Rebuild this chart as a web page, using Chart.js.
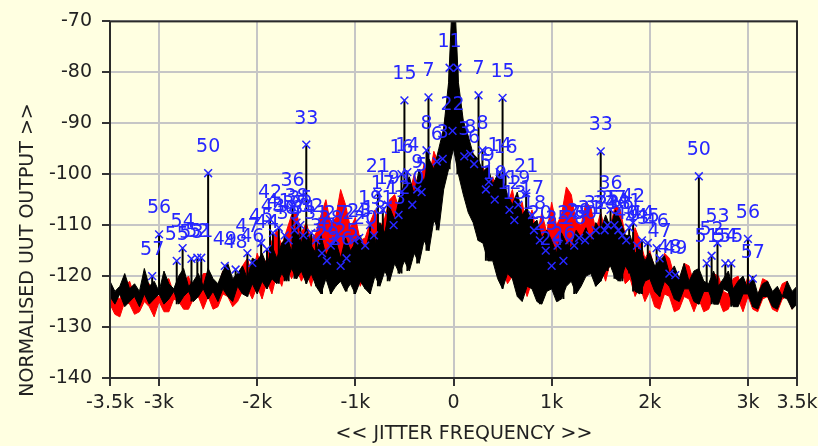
<!DOCTYPE html>
<html>
<head>
<meta charset="utf-8">
<script src="https://cdn.jsdelivr.net/npm/chart.js@4.4.1/dist/chart.umd.min.js"></script>
<style>
html, body { margin: 0; padding: 0; background: #ffffe1; }
canvas { display: block; }
</style>
</head>
<body>
<canvas id="jitterChart" width="818" height="446"></canvas>
<script>
// frequency grid of the noise traces (Hz): -3500 .. 3500 in 50 Hz bins
const freqStart = -3500;
const freqStep = 50;

// black trace, top and bottom of the noise band per bin (dB)
const blackHi = [
  -121, -123, -122, -119.5, -122.5, -121.5, -123, -118.5, -122, -121,
  -123, -119, -121.5, -122.5, -120, -118.5, -122, -121, -119.5, -122,
  -118.5, -120.5, -121.5, -119, -117.5, -120.5, -119.5, -118, -120.5, -116.5,
  -117, -115.5, -118, -114, -116.5, -113.5, -112.5, -115, -111, -113.5,
  -110.5, -114, -115.5, -112, -116, -114, -113, -116.5, -112.5, -115,
  -113.5, -112, -115.5, -111, -113.5, -109.5, -111.5, -106.5, -109, -104.5,
  -102, -100.5, -104, -99, -101.5, -97, -99, -95, -91, -82,
  -60, -82, -89.5, -92.5, -96, -97, -99.5, -98.5, -102, -100,
  -101, -104, -106, -103.5, -108, -106.5, -110, -109, -112.5, -111,
  -113, -115.5, -111.5, -113.5, -114.5, -111, -112.5, -110.5, -113.5, -109.5,
  -111, -108, -110.5, -107, -109, -112, -112, -115.5, -114.5, -117,
  -115.5, -118, -117, -116, -119.5, -118, -120.5, -117.5, -121, -119,
  -118.5, -121, -121.5, -119, -122, -120.5, -119, -122.5, -121, -120,
  -122.5, -120, -123.5, -121.5, -121, -123, -122, -124, -121, -123,
  -122
];
const blackLo = [
  -124, -125.5, -123.5, -126, -125, -124, -126, -123.5, -125.5, -124.5,
  -123.5, -125.5, -124.5, -123, -125.5, -124, -123, -125, -124, -122.5,
  -124.5, -123, -125, -122.5, -124, -125, -122, -123.5, -124, -121.5,
  -123.5, -121, -122.5, -120.5, -121.5, -119.5, -121, -118.5, -120.5, -119,
  -121.5, -119.5, -122, -123.5, -120.5, -123.5, -122, -121, -123, -121.5,
  -123.5, -121, -122.5, -123.5, -120, -122, -119, -121, -117.5, -119.5,
  -117, -119, -115.5, -117.5, -113, -115, -109, -111, -103, -99,
  -95, -100, -104, -107.5, -109.5, -113, -113.5, -117, -117, -120.5,
  -122.5, -119.5, -120.5, -124, -125, -122, -122.5, -125, -125.5, -123,
  -122.5, -125, -124.5, -122, -121, -123.5, -122, -120, -119.5, -122,
  -121, -119, -118, -120.5, -121, -118, -119.5, -123, -123.5, -121,
  -120.5, -123, -124, -121, -122, -124.5, -125, -122.5, -122.5, -125,
  -125.5, -123, -123, -125.5, -125.5, -122.5, -123, -126, -126, -123.5,
  -123.5, -126, -126.5, -124, -124, -126, -126.5, -124, -124.5, -126.5,
  -125.5
];

// red trace, top and bottom of the noise band per bin (dB)
const redHi = [
  -121.5, -124, -124.5, -122, -121, -124, -125, -122.5, -121.5, -124,
  -124, -121, -120.5, -123.5, -123, -121, -120, -123, -122.5, -119.5,
  -119.5, -122.5, -122, -119, -119.5, -121.5, -121, -118, -116.5, -120,
  -115.5, -118.5, -116.5, -113, -111, -114, -111, -108, -107.5, -111.5,
  -109.5, -113, -111.5, -108, -105, -110, -108.5, -103, -106, -110.5,
  -108.5, -113, -112.5, -109.5, -107, -110.5, -108.5, -105, -104, -107,
  -101.5, -104, -100, -103, -98, -101, -95.5, -98, -91, -85,
  -70, -84, -90, -94.5, -96, -99, -98.5, -101.5, -100.5, -104,
  -102, -106, -103, -108, -105.5, -110.5, -107, -112, -107.5, -111.5,
  -105.5, -110, -108, -102.5, -104, -109.5, -110, -105.5, -106.5, -111,
  -107.5, -111.5, -110, -106, -107, -112, -115, -110.5, -113, -116.5,
  -115, -118.5, -119.5, -115.5, -116.5, -120, -121, -117.5, -118, -121.5,
  -119, -122.5, -123, -119.5, -120, -123, -123.5, -120.5, -120, -123.5,
  -120, -123.5, -124, -120.5, -121, -123.5, -124, -121.5, -121, -124.5,
  -123
];
const redLo = [
  -125.5, -127.5, -128, -125, -125.5, -127.5, -127, -125, -126, -128,
  -125, -127, -127, -124.5, -125, -126.5, -126.5, -124.5, -124, -126.5,
  -124, -126.5, -126, -123.5, -124, -126, -125, -123, -122.5, -124.5,
  -122, -124.5, -121, -123.5, -119.5, -122, -118, -120.5, -118.5, -121,
  -119, -122, -118, -121, -116.5, -119.5, -116, -119, -117, -120.5,
  -118.5, -122, -119.5, -122.5, -119, -121.5, -117.5, -120, -116.5, -118.5,
  -115.5, -117.5, -113.5, -115.5, -111, -113.5, -107, -109, -101, -97,
  -93, -98, -102, -106, -108, -112, -112.5, -116, -116, -119.5,
  -118.5, -121.5, -120, -123, -121, -124, -121, -123.5, -120, -122.5,
  -117.5, -120, -116, -119, -115.5, -118.5, -116.5, -119.5, -117, -120,
  -118, -121, -117, -120, -118, -121.5, -120.5, -124, -122, -125,
  -123, -126, -126.5, -123.5, -124, -127, -126.5, -124, -124.5, -127,
  -124.5, -127, -126.5, -124, -124.5, -127, -126.5, -124, -124.5, -127,
  -124, -126.5, -127, -124.5, -124, -126.5, -127, -124.5, -124, -126.5,
  -125
];

// marked harmonics: frequency (Hz), level (dB), label
const markerFreq = [
  -3070, -3000, -2820, -2760, -2670, -2610, -2570, -2500, -2330, -2220,
  -2100, -2050, -1960, -1900, -1870, -1840, -1780, -1720, -1680, -1640,
  -1620, -1600, -1560, -1530, -1500, -1450, -1400, -1340, -1290, -1250,
  -1200, -1150, -1090, -1010, -960, -900, -850, -810, -720, -770,
  -670, -610, -560, -530, -470, -500, -420, -370, -325, -275,
  -255, -170, -110, -40, -10,
  40, 110, 170, 210, 255, 295, 330, 360, 420, 470,
  500, 530, 570, 620, 660, 740, 800, 820, 880, 940,
  1000, 1060, 1120, 1180, 1230, 1280, 1340, 1390, 1450, 1500,
  1540, 1570, 1600, 1640, 1680, 1720, 1760, 1790, 1830, 1870,
  1920, 1980, 2070, 2100, 2200, 2260, 2500, 2580, 2630, 2690,
  2770, 2830, 3000, 3050
];
const markerLevel = [
  -120, -111.8, -117, -114.5, -116.6, -116.4, -116.4, -99.8, -118, -118.7,
  -115.5, -117.4, -113.5, -114.7, -108.8, -111.5, -110.5, -112, -113, -106.5,
  -111, -109.5, -110, -112, -94.2, -111.5, -113, -115.5, -117, -114,
  -113, -118, -116.5, -113, -112.5, -114, -110, -112, -107, -103.7,
  -106, -110, -108, -100, -99.6, -85.5, -106, -103, -103.5, -95.3,
  -84.9, -97.5, -97, -79.1, -91.5,
  -79.1, -96.5, -96, -98, -84.5, -95.3, -103, -101.5, -105, -99.6,
  -85, -100, -107, -109, -106, -103.7, -108, -111, -113, -115,
  -118, -114, -117, -113, -114, -112.5, -113, -112, -111, -95.5,
  -111, -110, -107, -110, -111, -112, -113, -110.5, -109.5, -114,
  -113, -113.5, -114.5, -116.5, -119.5, -119.8, -100.4, -117.5, -116, -113.5,
  -117.5, -117.5, -112.7, -120.5
];
const markerLabel = [
  '57', '56', '55', '54', '53', '52', '51', '50', '49', '48',
  '47', '46', '45', '44', '42', '43', '41', '40', '39', '36',
  '37', '38', '35', '34', '33', '32', '31', '30', '29', '28',
  '27', '26', '25', '24', '23', '20', '19', '18', '17', '21',
  '19', '13', '12', '16', '14', '15', '10', '9', '5', '8',
  '7', '6', '3', '11', '22',
  '', '3', '8', '6', '7', '8', '5', '9', '10', '14',
  '15', '16', '12', '13', '19', '21', '17', '18', '20', '23',
  '24', '25', '26', '27', '28', '29', '30', '31', '32', '33',
  '34', '35', '36', '37', '38', '39', '40', '41', '42', '43',
  '44', '45', '46', '47', '48', '49', '50', '51', '52', '53',
  '54', '55', '56', '57'
];

// unlabelled lines at the band edges
const edgeFreq = [-3500, 3500];
const edgeLevel = [-100.5, -104.8];

// axis ticks
const xTickValues = [-3500, -3000, -2000, -1000, 0, 1000, 2000, 3000, 3500];
const xTickLabels = ['-3.5k', '-3k', '-2k', '-1k', '0', '1k', '2k', '3k', '3.5k'];
const yMin = -140, yMax = -70, yStep = 10;

const BG = '#ffffe1';
const BLUE = '#2626ff';
const FONT = '"DejaVu Sans", sans-serif';

const binFreq = blackHi.map((_, i) => freqStart + i * freqStep);
const toPoints = arr => arr.map((v, i) => ({ x: binFreq[i], y: v }));
const binLo = f => blackLo[Math.round((f - freqStart) / freqStep)];

const spikePoints = [];
markerFreq.forEach((f, i) => {
    spikePoints.push({ x: f, y: binLo(f) }, { x: f, y: markerLevel[i] }, { x: f, y: null });
});
edgeFreq.forEach((f, i) => {
    spikePoints.push({ x: f, y: binLo(f) }, { x: f, y: edgeLevel[i] }, { x: f, y: null });
});

const markerPoints = markerFreq.map((f, i) => ({ x: f, y: markerLevel[i] }));

// background, frame and axis titles
const framePlugin = {
    id: 'framePlugin',
    beforeDraw(chart) {
        const { ctx, width, height } = chart;
        ctx.save();
        ctx.fillStyle = BG;
        ctx.fillRect(0, 0, width, height);
        ctx.restore();
    },
    afterDraw(chart) {
        const { ctx, chartArea: a } = chart;
        ctx.save();
        ctx.strokeStyle = '#2b2b2b';
        ctx.lineWidth = 2;
        ctx.strokeRect(a.left, a.top, a.right - a.left, a.bottom - a.top);

        ctx.fillStyle = '#222';
        ctx.font = '19px ' + FONT;
        ctx.textAlign = 'center';
        ctx.textBaseline = 'middle';
        ctx.fillText('<< JITTER FREQUENCY >>', 464, 434);
        ctx.translate(28, 250);
        ctx.rotate(-Math.PI / 2);
        ctx.fillText('NORMALISED UUT OUTPUT >>', 0, 0);
        ctx.restore();
    }
};

// harmonic numbers above the markers
const labelPlugin = {
    id: 'labelPlugin',
    afterDatasetsDraw(chart) {
        const { ctx, scales: { x, y } } = chart;
        ctx.save();
        ctx.font = '19px ' + FONT;
        ctx.fillStyle = BLUE;
        ctx.textAlign = 'center';
        ctx.textBaseline = 'middle';
        markerFreq.forEach((f, i) => {
            if (!markerLabel[i]) return;
            ctx.fillText(markerLabel[i], x.getPixelForValue(f), y.getPixelForValue(markerLevel[i]) - 26);
        });
        ctx.restore();
    }
};

new Chart(document.getElementById('jitterChart'), {
    type: 'line',
    data: {
        datasets: [
            { data: toPoints(redHi), borderColor: '#ff0000', backgroundColor: '#ff0000', borderWidth: 1, fill: '+1', order: 6 },
            { data: toPoints(redLo), borderColor: '#ff0000', borderWidth: 1, fill: false, order: 5 },
            { data: spikePoints, borderColor: '#000', borderWidth: 2, fill: false, spanGaps: false, order: 4 },
            { data: toPoints(blackHi), borderColor: '#000', backgroundColor: '#000', borderWidth: 1, fill: '+1', order: 3 },
            { data: toPoints(blackLo), borderColor: '#000', borderWidth: 1, fill: false, order: 2 },
            {
                data: markerPoints, showLine: false, pointStyle: 'crossRot', pointRadius: 5.5,
                pointBorderColor: BLUE, pointBorderWidth: 1.5, order: 1
            }
        ]
    },
    options: {
        responsive: false,
        animation: false,
        devicePixelRatio: 1,
        events: [],
        elements: { point: { radius: 0 }, line: { tension: 0 } },
        layout: { padding: { top: 15, right: 0, left: 0, bottom: 0 } },
        plugins: { legend: { display: false }, tooltip: { enabled: false } },
        scales: {
            x: {
                type: 'linear',
                min: xTickValues[0],
                max: xTickValues[xTickValues.length - 1],
                afterBuildTicks: scale => { scale.ticks = xTickValues.map(v => ({ value: v })); },
                afterFit: scale => {
                    scale.height = 68;
                    scale.paddingLeft = 0;
                    scale.paddingRight = 21;
                },
                border: { display: false },
                grid: {
                    color: c => (Math.abs(c.tick && c.tick.value) === 3500 ? 'rgba(0,0,0,0)' : '#c6c6c6'),
                    lineWidth: 2,
                    tickColor: '#333',
                    tickLength: 8,
                    tickWidth: 2
                },
                ticks: {
                    autoSkip: false,
                    maxRotation: 0,
                    padding: 6,
                    color: '#222',
                    font: { family: FONT, size: 19 },
                    callback: (v, i) => xTickLabels[i]
                }
            },
            y: {
                min: yMin,
                max: yMax,
                afterFit: scale => { scale.width = 110; },
                border: { display: false },
                grid: { color: '#c6c6c6', lineWidth: 2, tickColor: '#333', tickLength: 8, tickWidth: 2 },
                ticks: {
                    stepSize: yStep,
                    padding: 10,
                    color: '#222',
                    font: { family: FONT, size: 19 }
                }
            }
        }
    },
    plugins: [framePlugin, labelPlugin]
});
</script>
</body>
</html>
